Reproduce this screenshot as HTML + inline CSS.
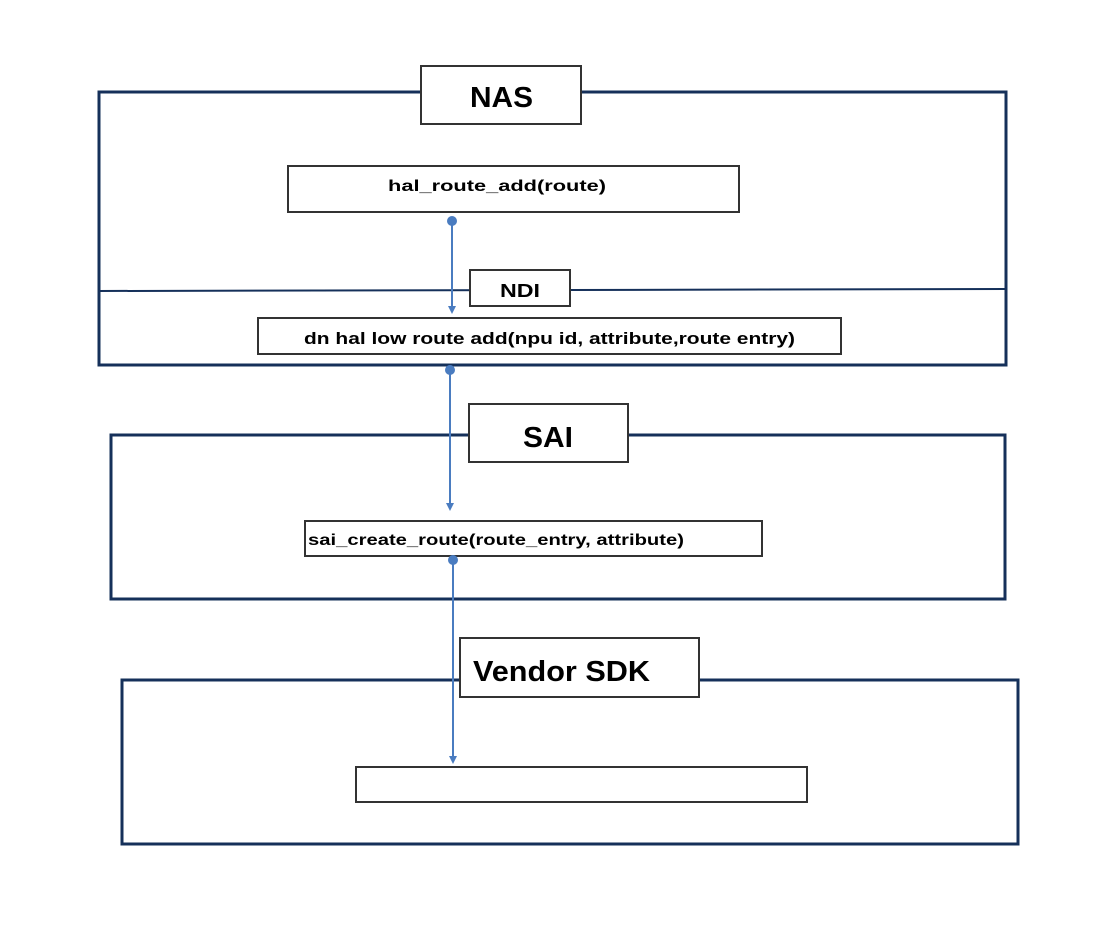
<!DOCTYPE html>
<html><head><meta charset="utf-8"><style>
body{margin:0;background:#fff}
svg text{font-family:"Liberation Sans",sans-serif}
</style></head><body>
<svg width="1099" height="934" xmlns="http://www.w3.org/2000/svg">
<defs><marker id="a" markerWidth="8" markerHeight="8" refX="4" refY="4" orient="auto" markerUnits="userSpaceOnUse"><path d="M0,0 L8,4 L0,8 z" fill="#4a7cc0"/></marker></defs>
<g fill="none" stroke="#15305a" stroke-width="3">
<rect x="99" y="92" width="907" height="273"/>
<line x1="99" y1="291" x2="1006" y2="289" stroke-width="2"/>
<rect x="111" y="435" width="894" height="164"/>
<rect x="122" y="680" width="896" height="164"/>
</g>
<g fill="#fff" stroke="#333" stroke-width="2">
<rect x="421" y="66" width="160" height="58"/>
<rect x="288" y="166" width="451" height="46"/>
<rect x="470" y="270" width="100" height="36"/>
<rect x="258" y="318" width="583" height="36"/>
<rect x="469" y="404" width="159" height="58"/>
<rect x="305" y="521" width="457" height="35"/>
<rect x="460" y="638" width="239" height="59"/>
<rect x="356" y="767" width="451" height="35"/>
</g>
<g stroke="#4a7cc0" stroke-width="2" fill="#4a7cc0">
<circle cx="452" cy="221" r="4"/>
<line x1="452" y1="221" x2="452" y2="310" marker-end="url(#a)"/>
<circle cx="450" cy="370" r="4"/>
<line x1="450" y1="370" x2="450" y2="507" marker-end="url(#a)"/>
<circle cx="453" cy="560" r="4"/>
<line x1="453" y1="560" x2="453" y2="760" marker-end="url(#a)"/>
</g>
<g font-weight="bold" fill="#000">
<text x="470" y="107" font-size="29" textLength="63" lengthAdjust="spacingAndGlyphs">NAS</text>
<text x="388" y="191" font-size="16" textLength="218" lengthAdjust="spacingAndGlyphs">hal_route_add(route)</text>
<text x="500" y="297" font-size="18" textLength="40" lengthAdjust="spacingAndGlyphs">NDI</text>
<text x="304" y="344" font-size="17" textLength="491" lengthAdjust="spacingAndGlyphs">dn  hal  low  route  add(npu  id, attribute,route  entry)</text>
<text x="523" y="447" font-size="29" textLength="50" lengthAdjust="spacingAndGlyphs">SAI</text>
<text x="308" y="545" font-size="16" textLength="376" lengthAdjust="spacingAndGlyphs">sai_create_route(route_entry, attribute)</text>
<text x="473" y="681" font-size="29" textLength="177" lengthAdjust="spacingAndGlyphs">Vendor SDK</text>
</g>
</svg>
</body></html>
